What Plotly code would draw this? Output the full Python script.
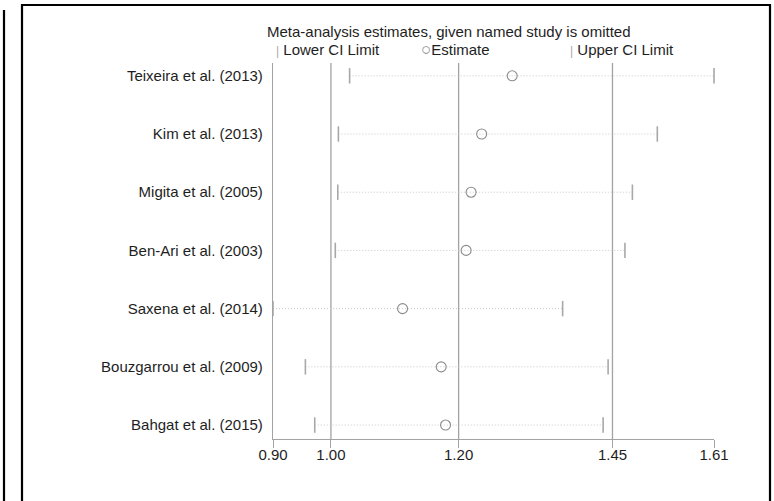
import plotly.graph_objects as go

# Studies, top to bottom
studies = [
    "Teixeira et al. (2013)",
    "Kim et al. (2013)",
    "Migita et al. (2005)",
    "Ben-Ari et al. (2003)",
    "Saxena et al. (2014)",
    "Bouzgarrou et al. (2009)",
    "Bahgat et al. (2015)",
]
# Pooled estimate and CI with each study omitted
lower_ci = [1.026, 1.008, 1.007, 1.003, 0.903, 0.955, 0.970]
estimate = [1.287, 1.238, 1.221, 1.213, 1.111, 1.173, 1.180]
upper_ci = [1.611, 1.520, 1.480, 1.468, 1.368, 1.441, 1.433]

# Overall combined estimate (reference lines)
overall_lower = 0.996
overall_est = 1.201
overall_upper = 1.448

# Axis ticks: min lower, overall CI, max upper
tick_vals = [0.903, 0.996, 1.201, 1.448, 1.611]
tick_text = ["0.90", "1.00", "1.20", "1.45", "1.61"]

W, H = 774, 501
L, R, T, B = 273, 60, 63, 62
FONT = "Liberation Sans, Arial, sans-serif"
TXT = "#1e1e1e"
LINE_GREY = "#a3a3a3"
FS = 15

n = len(studies)
ypos = list(range(n, 0, -1))

fig = go.Figure()

# Overall estimate reference lines
for v in (overall_lower, overall_est, overall_upper):
    fig.add_shape(type="line", xref="x", yref="paper", x0=v, x1=v, y0=0, y1=1,
                  line=dict(color=LINE_GREY, width=1.3), layer="below")

# Dotted CI spans
for lo, hi, y in zip(lower_ci, upper_ci, ypos):
    fig.add_trace(go.Scatter(x=[lo, hi], y=[y, y], mode="lines",
                             line=dict(color="#c8c8c8", width=1, dash="1px,2px"),
                             hoverinfo="skip", showlegend=False))

# Lower / upper CI limit markers
for vals in (lower_ci, upper_ci):
    fig.add_trace(go.Scatter(x=vals, y=ypos, mode="markers",
                             marker=dict(symbol="line-ns", size=11, color="#a8a8a8",
                                         line=dict(color="#a8a8a8", width=1.6)),
                             showlegend=False, cliponaxis=False))
# Estimates
fig.add_trace(go.Scatter(x=estimate, y=ypos, mode="markers",
                         marker=dict(symbol="circle-open", size=10, color="#8c8c8c",
                                     line=dict(color="#8c8c8c", width=1.1)),
                         showlegend=False))

pw = W - L - R
ph = H - T - B


def px(xp):
    return (xp - L) / pw


def py(yp):
    return 1 - (yp - T) / ph


# Outer frame
fig.add_shape(type="rect", xref="paper", yref="paper",
              x0=px(22), x1=px(770), y0=py(515), y1=py(5),
              line=dict(color="black", width=2.2))
fig.add_shape(type="line", xref="paper", yref="paper",
              x0=px(4), x1=px(4), y0=py(515), y1=py(10),
              line=dict(color="black", width=2.2))

# Title and key
fig.add_annotation(text="Meta-analysis estimates, given named study is omitted",
                   xref="paper", yref="paper", x=px(266), y=py(31),
                   xanchor="left", yanchor="middle", showarrow=False, borderpad=0,
                   font=dict(family=FONT, size=FS, color=TXT))
key = [
    (275, '<span style="color:#aaaaaa;font-size:12px">|</span> Lower CI Limit'),
    (420, '<span style="color:#888888;font-size:17px">○</span>Estimate'),
    (569, '<span style="color:#aaaaaa;font-size:12px">|</span> Upper CI Limit'),
]
for kx, ktxt in key:
    fig.add_annotation(text=ktxt, xref="paper", yref="paper", x=px(kx), y=py(49),
                       xanchor="left", yanchor="middle", showarrow=False, borderpad=0,
                       font=dict(family=FONT, size=FS, color=TXT))

fig.update_layout(
    width=W, height=H,
    margin=dict(l=L, r=R, t=T, b=B),
    paper_bgcolor="white", plot_bgcolor="white",
    font=dict(family=FONT, size=FS, color=TXT),
    showlegend=False,
    xaxis=dict(range=[tick_vals[0], tick_vals[-1]], tickvals=tick_vals,
               ticktext=tick_text, showgrid=False, zeroline=False,
               showline=True, linecolor=LINE_GREY, linewidth=1.3,
               ticks="outside", ticklen=8, tickwidth=1.3, tickcolor=LINE_GREY,
               ticklabelstandoff=-6,
               tickfont=dict(family=FONT, size=FS, color=TXT)),
    yaxis=dict(range=[0.76, n + 0.22], tickvals=ypos, ticktext=studies,
               showgrid=False, zeroline=False, showline=True,
               linecolor=LINE_GREY, linewidth=1.3, ticks="",
               ticklabelstandoff=6,
               tickfont=dict(family=FONT, size=FS, color=TXT)),
)

fig.write_html("out.html")
